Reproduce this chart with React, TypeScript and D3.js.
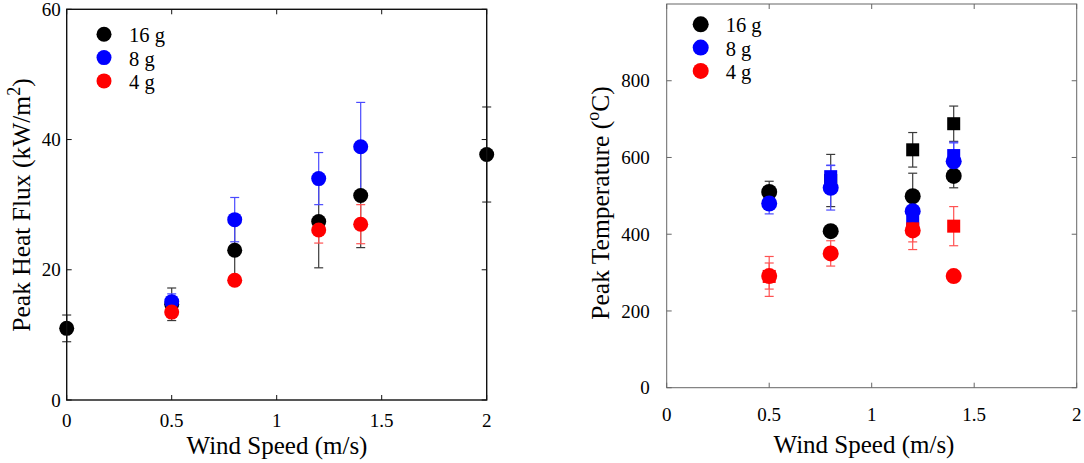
import * as d3 from 'd3';

// left panel: peak heat flux (kW/m2)
const fluxX16 = [0, 0.5, 0.8, 1.2, 1.4, 2];
const flux16 = [11.0, 14.7, 23.0, 27.4, 31.4, 37.7];
const flux16Err = [2.05, 2.5, 4.1, 7.1, 8.0, 7.3];
const fluxX8 = [0.5, 0.8, 1.2, 1.4];
const flux8 = [15.1, 27.7, 34.0, 38.9];
const flux8Err = [1.2, 3.4, 4.0, 6.8];
const fluxX4 = [0.5, 0.8, 1.2, 1.4];
const flux4 = [13.5, 18.4, 26.1, 27.0];
const flux4Err = [0.8, 0.7, 2.0, 3.0];

// right panel: peak temperature (°C), circles and squares
const tempX = [0.5, 0.8, 1.2, 1.4];
const temp16 = [510, 408, 499, 552];
const temp16Err = [28, 12, 60, 31];
const temp8 = [480, 521, 460, 590];
const temp8Err = [27, 58, 37, 48];
const temp4 = [291, 350, 410, 291];
const temp4Err = [34, 33, 30, 10];
const sqX16 = [0.8, 1.2, 1.4];
const sq16 = [540, 620, 688];
const sq16Err = [68, 45, 46];
const sqX8 = [0.8, 1.2, 1.4];
const sq8 = [550, 432, 605];
const sq8Err = [30, 10, 35];
const sqX4 = [0.5, 1.2, 1.4];
const sq4 = [290, 414, 421];
const sq4Err = [52, 54, 51];

const xTicks = [0, 0.5, 1, 1.5, 2];
const fluxTicks = [0, 20, 40, 60];
const tempTicks = [0, 200, 400, 600, 800];
const legendLabels = ['16 g', '8 g', '4 g'];

const markColor = ['#000000', '#0000ff', '#ff0000'];
const barColor = ['#3a3a3a', '#4a4aff', '#ff5252'];
const FONT = '"Liberation Serif", "Times New Roman", serif';

interface Series {
  xs: number[];
  ys: number[];
  err: number[];
  color: number;
  shape: 'circle' | 'square';
}

interface PanelProps {
  left: number;
  right: number;
  top: number;
  bottom: number;
  yMax: number;
  yTicks: number[];
  series: Series[];
  frame: string;
  frameWidth: number;
  yLabelGap: number;
  xLabelY: number;
  titleY: number;
  titleX: number;
  yTitleX: number;
  yTitleY: number;
  yTitle: [string, string, string];
  legendX: number;
  legendY: number;
  radius: number;
}

function Panel(p: PanelProps) {
  const x = d3.scaleLinear().domain([0, 2]).range([p.left, p.right]);
  const y = d3.scaleLinear().domain([0, p.yMax]).range([p.bottom, p.top]);
  const tick = 5;
  const cap = 4.5;

  return (
    <g fontFamily={FONT} fill="#000">
      {/* error bars first, markers on top */}
      {p.series.map((s, si) =>
        s.xs.map((xv, i) => (
          <g key={`e${si}-${i}`} stroke={barColor[s.color]} strokeWidth={1.2}>
            <line x1={x(xv)} x2={x(xv)} y1={y(s.ys[i] - s.err[i])} y2={y(s.ys[i] + s.err[i])} />
            <line x1={x(xv) - cap} x2={x(xv) + cap} y1={y(s.ys[i] + s.err[i])} y2={y(s.ys[i] + s.err[i])} />
            <line x1={x(xv) - cap} x2={x(xv) + cap} y1={y(s.ys[i] - s.err[i])} y2={y(s.ys[i] - s.err[i])} />
          </g>
        ))
      )}
      {p.series.map((s, si) =>
        s.xs.map((xv, i) =>
          s.shape === 'circle' ? (
            <circle key={`m${si}-${i}`} cx={x(xv)} cy={y(s.ys[i])} r={p.radius} fill={markColor[s.color]} />
          ) : (
            <rect key={`m${si}-${i}`} x={x(xv) - 6.5} y={y(s.ys[i]) - 6.5} width={13} height={13} fill={markColor[s.color]} />
          )
        )
      )}

      {/* frame and inward ticks */}
      <rect x={p.left} y={p.top} width={p.right - p.left} height={p.bottom - p.top}
        fill="none" stroke={p.frame} strokeWidth={p.frameWidth} />
      {xTicks.map(t => (
        <g key={`xt${t}`} stroke={p.frame} strokeWidth={1}>
          <line x1={x(t)} x2={x(t)} y1={p.bottom} y2={p.bottom - tick} />
          <line x1={x(t)} x2={x(t)} y1={p.top} y2={p.top + tick} />
        </g>
      ))}
      {p.yTicks.map(t => (
        <g key={`yt${t}`} stroke={p.frame} strokeWidth={1}>
          <line x1={p.left} x2={p.left + tick} y1={y(t)} y2={y(t)} />
          <line x1={p.right} x2={p.right - tick} y1={y(t)} y2={y(t)} />
        </g>
      ))}

      {/* tick labels */}
      {xTicks.map(t => (
        <text key={`xl${t}`} x={x(t)} y={p.xLabelY} textAnchor="middle" fontSize={19}>{t}</text>
      ))}
      {p.yTicks.map(t => (
        <text key={`yl${t}`} x={p.left - p.yLabelGap} y={y(t)} dy="0.35em" textAnchor="end" fontSize={19}>{t}</text>
      ))}

      {/* axis titles */}
      <text x={p.titleX} y={p.titleY} textAnchor="middle" fontSize={25}>Wind Speed (m/s)</text>
      <text transform={`translate(${p.yTitleX},${p.yTitleY}) rotate(-90)`} textAnchor="middle" fontSize={25.5}>
        {p.yTitle[0]}
        <tspan dy={-10} fontSize={18}>{p.yTitle[1]}</tspan>
        <tspan dy={10}>{p.yTitle[2]}</tspan>
      </text>

      {/* legend */}
      {legendLabels.map((l, i) => (
        <g key={l}>
          <circle cx={p.legendX} cy={p.legendY + i * 23.3} r={p.radius} fill={markColor[i]} />
          <text x={p.legendX + 25} y={p.legendY + i * 23.3 + 8} fontSize={20.5}>{l}</text>
        </g>
      ))}
    </g>
  );
}

export default function App() {
  const fluxSeries: Series[] = [
    { xs: fluxX16, ys: flux16, err: flux16Err, color: 0, shape: 'circle' },
    { xs: fluxX8, ys: flux8, err: flux8Err, color: 1, shape: 'circle' },
    { xs: fluxX4, ys: flux4, err: flux4Err, color: 2, shape: 'circle' },
  ];
  const tempSeries: Series[] = [
    { xs: sqX16, ys: sq16, err: sq16Err, color: 0, shape: 'square' },
    { xs: sqX8, ys: sq8, err: sq8Err, color: 1, shape: 'square' },
    { xs: sqX4, ys: sq4, err: sq4Err, color: 2, shape: 'square' },
    { xs: tempX, ys: temp16, err: temp16Err, color: 0, shape: 'circle' },
    { xs: tempX, ys: temp8, err: temp8Err, color: 1, shape: 'circle' },
    { xs: tempX, ys: temp4, err: temp4Err, color: 2, shape: 'circle' },
  ];

  return (
    <svg width={1084} height={463} style={{ position: 'absolute', left: 0, top: 0, background: '#fff' }}>
      <Panel left={66.7} right={486.7} top={9.3} bottom={400} yMax={60} yTicks={fluxTicks}
        series={fluxSeries} frame="#111" frameWidth={1.4} yLabelGap={6} xLabelY={427}
        titleX={277} titleY={454} yTitleX={30} yTitleY={205}
        yTitle={['Peak Heat Flux (kW/m', '2', ')']} legendX={104} legendY={34.3} radius={7.5} />
      <Panel left={666.7} right={1076.7} top={4} bottom={387.7} yMax={1000} yTicks={tempTicks}
        series={tempSeries} frame="#666" frameWidth={1} yLabelGap={17} xLabelY={421}
        titleX={864} titleY={453} yTitleX={609} yTitleY={203}
        yTitle={['Peak Temperature (', 'o', 'C)']} legendX={700.7} legendY={24.3} radius={8} />
    </svg>
  );
}
